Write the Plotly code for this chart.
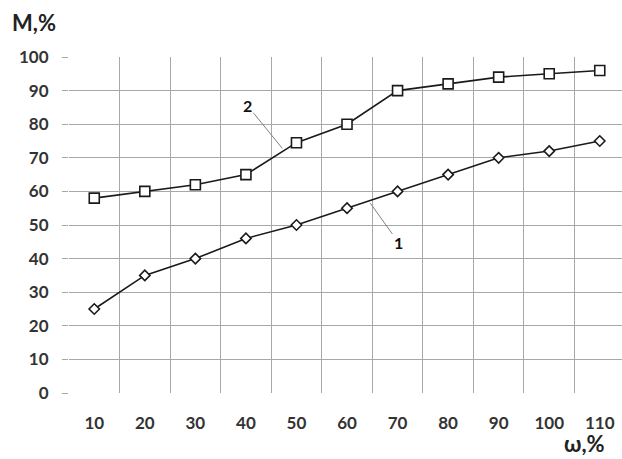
import plotly.graph_objects as go

categories = ["10", "20", "30", "40", "50", "60", "70", "80", "90", "100", "110"]
series1 = [25, 35, 40, 46, 50, 55, 60, 65, 70, 72, 75]
series2 = [58, 60, 62, 65, 74.5, 80, 90, 92, 94, 95, 96]
y_ticks = [0, 10, 20, 30, 40, 50, 60, 70, 80, 90, 100]

FONT = "Lato"
GRID = "#a8a8a8"
LINE = "#1a1a1a"

L, R, T, B = 68.5, 0, 56.7, 66.3
W, H = 622, 459
PW, PH = W - L - R, H - T - B

fig = go.Figure()
fig.add_trace(go.Scatter(
    x=categories, y=series1, mode="lines+markers",
    line=dict(color=LINE, width=1.6),
    marker=dict(symbol="diamond", size=8, color="white", line=dict(color=LINE, width=1.6)),
    showlegend=False, cliponaxis=False))
fig.add_trace(go.Scatter(
    x=categories, y=series2, mode="lines+markers",
    line=dict(color=LINE, width=1.6),
    marker=dict(symbol="square", size=10, color="white", line=dict(color=LINE, width=1.6)),
    showlegend=False, cliponaxis=False))

# curve labels with leader lines
fig.add_annotation(x=3.72, y=72.8, xref="x", yref="y", text="<b>2</b>",
                   showarrow=True, arrowhead=0, arrowwidth=1, arrowcolor="#808080",
                   ax=-35, ay=-43, standoff=0, font=dict(family=FONT, size=16, color="#111"))
fig.add_annotation(x=5.46, y=56.5, xref="x", yref="y", text="<b>1</b>",
                   showarrow=True, arrowhead=0, arrowwidth=1, arrowcolor="#808080",
                   ax=28, ay=39, standoff=0, font=dict(family=FONT, size=16, color="#111"))

# axis titles
fig.add_annotation(x=(9 - L) / PW, y=1 + (T - 22) / PH, xref="paper", yref="paper",
                   xanchor="left", yanchor="middle", text="<b>M,%</b>", showarrow=False,
                   font=dict(family=FONT, size=22, color="#222"))
fig.add_annotation(x=(584 - L) / PW, y=-B / PH, xref="paper", yref="paper",
                   xanchor="center", yanchor="bottom", text="<b>ω,%</b>", showarrow=False,
                   font=dict(family=FONT, size=22, color="#222"))

fig.update_layout(
    width=W, height=H,
    margin=dict(l=L, r=R, t=T, b=B),
    paper_bgcolor="white", plot_bgcolor="white",
    font=dict(family=FONT, color="#333"),
    xaxis=dict(type="category", tickson="boundaries", range=[-0.5, 10.44],
               showgrid=True, gridcolor=GRID, gridwidth=1.4,
               ticks="", showline=False, zeroline=False,
               tickfont=dict(family=FONT, size=17, color="#333", weight="bold"),
               ticklabelstandoff=18),
    yaxis=dict(range=[0, 100], tickvals=y_ticks, showgrid=True, gridcolor=GRID, gridwidth=1.4,
               ticks="outside", ticklen=6, tickcolor=GRID, tickwidth=1.4,
               showline=False, zeroline=False,
               tickfont=dict(family=FONT, size=17, color="#333", weight="bold"),
               ticklabelstandoff=10),
)

fig.write_html("out.html")
